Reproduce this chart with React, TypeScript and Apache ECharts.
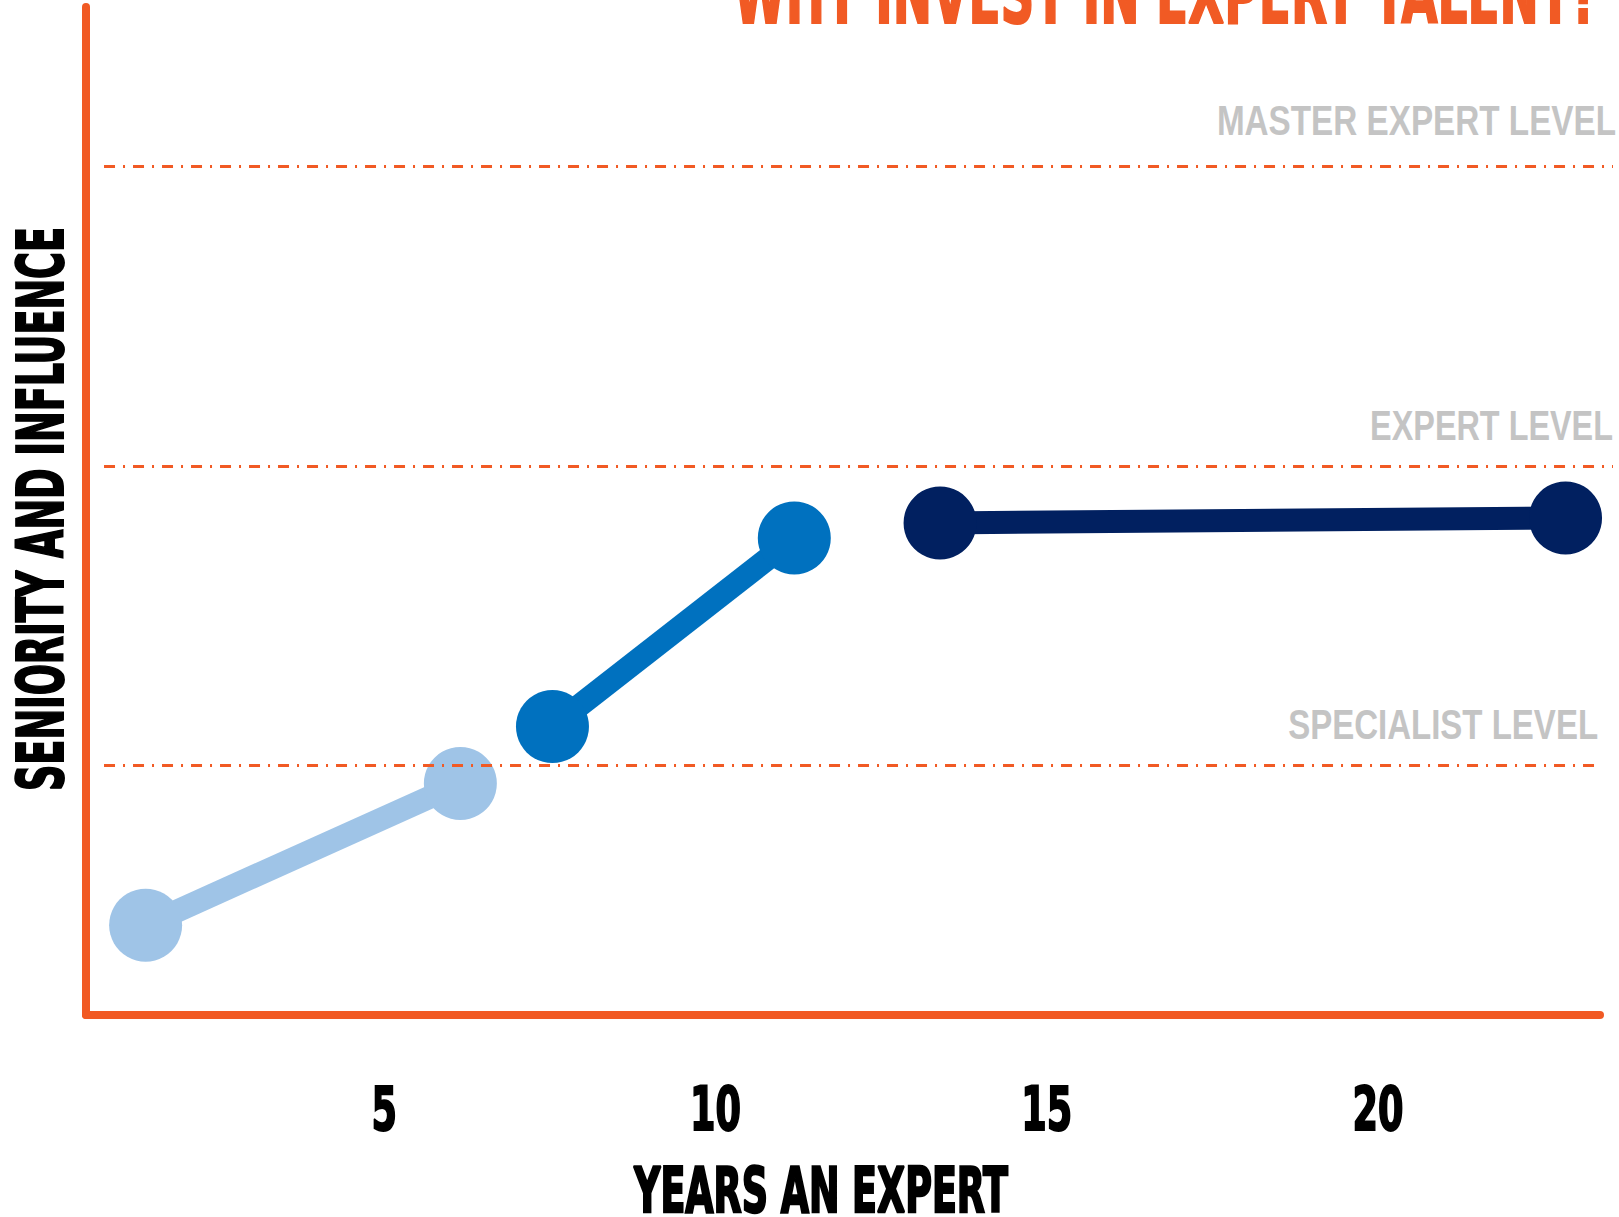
import React, { useEffect, useRef } from 'react';
import * as echarts from 'echarts';

// ---- chart texts ----
const titleText = 'WHY INVEST IN EXPERT TALENT?';
const xAxisTitle = 'YEARS AN EXPERT';
const yAxisTitle = 'SENIORITY AND INFLUENCE';

// ---- x axis tick labels (years) ----
const xTicks = [5, 10, 15, 20];

// ---- reference levels (seniority scale 0–101) ----
const levelNames = ['SPECIALIST LEVEL', 'EXPERT LEVEL', 'MASTER EXPERT LEVEL'];
const levelValues = [25, 55, 85];

// ---- career stages: [years, seniority] ----
const stageNames = ['Specialist', 'Expert', 'Master expert'];
const specialistPath = [
  [1.4, 9.0],
  [6.15, 23.2],
];
const expertPath = [
  [7.54, 28.9],
  [11.19, 47.8],
];
const masterPath = [
  [13.39, 49.3],
  [22.83, 49.8],
];

const ORANGE = '#f15a24';
const HEAVY = "'Liberation Sans Narrow', 'DejaVu Sans Condensed', 'DejaVu Sans', sans-serif";
const PLAIN = "'Liberation Sans', Arial, sans-serif";
const stageColors = ['#9fc4e7', '#0071bf', '#012060'];

const X_MIN = 0.5;
const X_MAX = 23.35;
// the dashed level guides run a little past the x axis, so they live in a wider twin grid
const GUIDE_X_MAX = 23.546;
const GUIDE_START = 0.772;
const guideEnds = [23.26, GUIDE_X_MAX, GUIDE_X_MAX];

const measureCtx = document.createElement('canvas').getContext('2d');
function measure(text: string, size: number, family: string): number {
  if (!measureCtx) return text.length * size * 0.5;
  measureCtx.font = `bold ${size}px ${family}`;
  return measureCtx.measureText(text).width;
}

// bold caption squeezed horizontally (and optionally stretched vertically)
function caption(
  text: string,
  size: number,
  scaleX: number,
  x: number,
  y: number,
  fill: string,
  opts: { family?: string; align?: string; rotation?: number; heavy?: boolean; scaleY?: number } = {}
) {
  const family = opts.family ?? HEAVY;
  const heavy = opts.heavy ?? true;
  return {
    type: 'text',
    x,
    y,
    rotation: opts.rotation ?? 0,
    scaleX,
    scaleY: opts.scaleY ?? 1,
    silent: true,
    style: {
      text,
      fontSize: size,
      fontWeight: 'bold',
      fontFamily: family,
      lineHeight: Math.round(size * 0.72),
      fill,
      stroke: heavy ? fill : undefined,
      lineWidth: heavy ? 2 : 0,
      align: opts.align ?? 'center',
      verticalAlign: 'middle',
    },
  };
}

const fit = (text: string, size: number, width: number, family = HEAVY) =>
  width / measure(text, size, family);

function buildOption() {
  const paths = [specialistPath, expertPath, masterPath];
  const stageSeries = paths.map((data, i) => ({
    type: 'line',
    name: stageNames[i],
    xAxisIndex: 0,
    yAxisIndex: 0,
    data,
    symbol: 'circle',
    symbolSize: 73,
    showSymbol: true,
    clip: false,
    z: 2,
    lineStyle: { width: 23, color: stageColors[i], cap: 'butt' },
    itemStyle: { color: stageColors[i] },
    emphasis: { disabled: true },
  }));

  const guideSeries = {
    type: 'line',
    name: 'levels',
    xAxisIndex: 1,
    yAxisIndex: 1,
    data: [],
    silent: true,
    z: 5,
    markLine: {
      silent: true,
      symbol: ['none', 'none'],
      emphasis: { disabled: true },
      label: { show: false },
      lineStyle: { color: ORANGE, width: 3, type: [11, 8, 2, 8] },
      data: levelValues.map((v, i) => [
        { coord: [GUIDE_START, v], name: levelNames[i] },
        { coord: [guideEnds[i], v] },
      ]),
    },
  };

  return {
    animation: false,
    backgroundColor: '#ffffff',
    grid: [
      { left: 86, right: 19, top: 7, bottom: 202 },
      { left: 86, right: 6, top: 7, bottom: 202 },
    ],
    xAxis: [
      {
        type: 'value',
        gridIndex: 0,
        min: X_MIN,
        max: X_MAX,
        axisLine: { show: true, onZero: false, lineStyle: { color: ORANGE, width: 8 } },
        axisTick: { show: false },
        splitLine: { show: false },
        axisLabel: { show: false },
      },
      { type: 'value', gridIndex: 1, min: X_MIN, max: GUIDE_X_MAX, show: false },
    ],
    yAxis: [
      {
        type: 'value',
        gridIndex: 0,
        min: 0,
        max: 101,
        axisLine: { show: true, onZero: false, lineStyle: { color: ORANGE, width: 8 } },
        axisTick: { show: false },
        axisLabel: { show: false },
        splitLine: { show: false },
      },
      { type: 'value', gridIndex: 1, min: 0, max: 101, show: false },
    ],
    series: [...stageSeries, guideSeries],
  };
}

// texts placed from the axes' own scales once the grid is laid out
function buildTexts(chart: echarts.ECharts) {
  const toPx = (gridIndex: number, x: number, y: number) =>
    chart.convertToPixel({ gridIndex }, [x, y]) as number[];

  const axisY = toPx(0, X_MIN, 0)[1];
  const tickScale = fit('20', 60, 51);
  const tickLabels = xTicks.map((t) =>
    caption(String(t), 60, tickScale, toPx(0, t, 0)[0], axisY + 94, '#000')
  );

  const labelShift = [
    [4, 40.5],
    [0, 40.5],
    [3, 46.5],
  ];
  const labelWidths = [310, 243, 399];
  const levelLabels = levelValues.map((v, i) => {
    const [ex, ey] = toPx(1, guideEnds[i], v);
    return caption(
      levelNames[i],
      42,
      fit(levelNames[i], 42, labelWidths[i], PLAIN),
      ex + labelShift[i][0],
      ey - labelShift[i][1],
      '#c4c4c4',
      { family: PLAIN, align: 'right', heavy: false }
    );
  });

  return [
    caption(titleText, 81, fit(titleText, 81, 865), 1166, -5, ORANGE),
    caption(xAxisTitle, 52, fit(xAxisTitle, 52, 374), 821, 1190, '#000', { scaleY: 63 / 52 }),
    caption(yAxisTitle, 64, fit(yAxisTitle, 64, 564), 41, 509, '#000', {
      rotation: Math.PI / 2,
    }),
    ...tickLabels,
    ...levelLabels,
  ];
}

export default function App() {
  const ref = useRef<HTMLDivElement>(null);
  useEffect(() => {
    if (!ref.current) return;
    const chart = echarts.init(ref.current, null, { renderer: 'svg' });
    chart.setOption(buildOption() as any);
    chart.setOption({ graphic: buildTexts(chart) } as any);
    return () => chart.dispose();
  }, []);
  return (
    <div
      ref={ref}
      style={{ position: 'fixed', left: 0, top: 0, width: 1619, height: 1217, background: '#fff' }}
    />
  );
}
